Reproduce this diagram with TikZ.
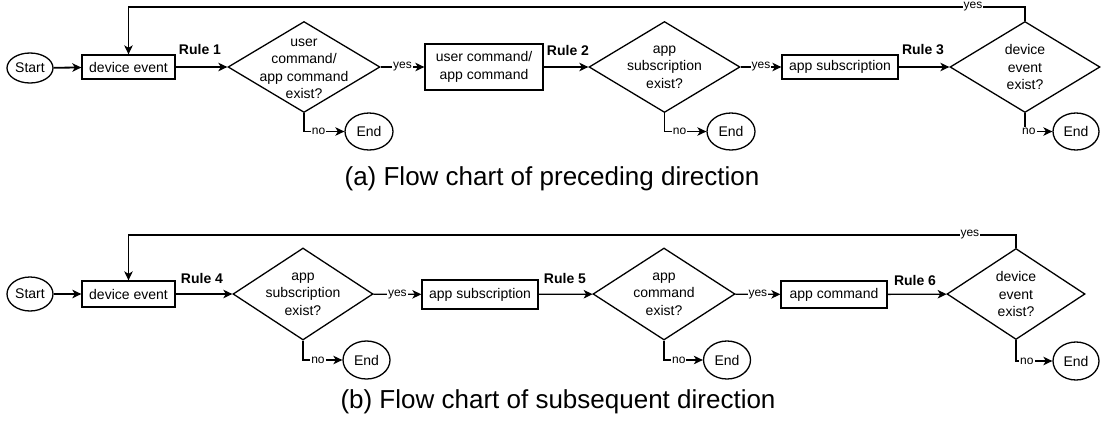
\documentclass[tikz,border=0pt]{standalone}
\usepackage{fontspec}
\setmainfont{Liberation Sans}
\usetikzlibrary{shapes.geometric,arrows.meta}
\begin{document}
\begin{tikzpicture}[x=1pt,y=-1pt,
  base/.style={draw=black, line width=1.3pt, inner sep=0pt, font=\fontsize{14}{17.5}\selectfont, align=center},
  oval/.style={base, ellipse},
  box/.style={base, rectangle},
  dia/.style={base, diamond},
  dtext/.style={draw=none, inner sep=0pt, font=\fontsize{14}{17.5}\selectfont, align=center},
  arr/.style={draw=black, line width=1.3pt, -{Stealth[length=9pt,width=8.5pt,inset=2.5pt]}},
  lbl/.style={fill=white, inner sep=1pt, font=\fontsize{12}{12}\selectfont},
  rulelbl/.style={font=\bfseries\fontsize{14}{16}\selectfont, inner sep=0pt},
  captext/.style={font=\fontsize{26}{30}\selectfont, inner sep=0pt}]
\useasboundingbox (0,0) rectangle (1101,426);

% ---------- panel (a) ----------
\node[oval, minimum width=46pt, minimum height=30pt] (sA) at (30,68) {Start};
\node[box, minimum width=93pt, minimum height=24pt] (devA) at (128.5,67) {device event};
\node[rulelbl] (r1) at (200,49) {Rule 1};
\node[dia, minimum width=152pt, minimum height=91pt,
  label={[dtext, yshift=-2pt]center:{user\\command/\\app command\\exist?}}] (dA1) at (304,67) {};
\node[oval, minimum width=48pt, minimum height=37pt] (eA1) at (369,131.5) {End};
\node[box, minimum width=118pt, minimum height=46pt] (cA) at (484,67) {user command/\\app command};
\node[rulelbl] (r2) at (568,50) {Rule 2};
\node[dia, minimum width=151pt, minimum height=91pt,
  label={[dtext]center:{app\\subscription\\exist?}}] (dA2) at (664.5,67) {};
\node[oval, minimum width=48pt, minimum height=37pt] (eA2) at (731,131.5) {End};
\node[box, minimum width=116pt, minimum height=24pt] (sbA) at (840,67) {app subscription};
\node[rulelbl] (r3) at (923,50) {Rule 3};
\node[dia, minimum width=150pt, minimum height=91pt,
  label={[dtext]center:{device\\event\\exist?}}] (dA3) at (1025,67) {};
\node[oval, minimum width=46pt, minimum height=37pt] (eA3) at (1076,131.5) {End};

\draw[arr, line width=1.8pt] (sA) -- (devA);
\draw[arr] (devA) -- (dA1);
\draw[arr] (dA1) -- node[lbl] (yA1) {yes} (cA);
\draw[arr] (dA1.south) |- node[lbl, pos=0.68] (nA1) {no} (eA1.west);
\draw[arr] (cA) -- (dA2);
\draw[arr] (dA2) -- node[lbl] (yA2) {yes} (sbA);
\draw[arr] (dA2.south) |- node[lbl, pos=0.68] (nA2) {no} (eA2.west);
\draw[arr] (sbA) -- (dA3);
\draw[arr] (dA3.south) |- node[lbl, pos=0.57] (nA3) {no} (eA3.west);
\draw[arr] (dA3.north) -- ++(0,-14) -| node[lbl, pos=0.029] (yA3) {yes} (devA.north);

\node[captext] (capA) at (552,179) {(a) Flow chart of preceding direction};

% ---------- panel (b) ----------
\node[oval, minimum width=46pt, minimum height=34pt] (sB) at (30,294) {Start};
\node[box, minimum width=93pt, minimum height=26pt] (devB) at (128.5,294) {device event};
\node[rulelbl] (r4) at (202,278) {Rule 4};
\node[dia, minimum width=140pt, minimum height=92pt,
  label={[dtext]center:{app\\subscription\\exist?}}] (dB1) at (303,294) {};
\node[oval, minimum width=47pt, minimum height=38pt] (eB1) at (366.5,360) {End};
\node[box, minimum width=116pt, minimum height=29pt] (sbB) at (480,294.5) {app subscription};
\node[rulelbl] (r5) at (565,278) {Rule 5};
\node[dia, minimum width=142pt, minimum height=92pt,
  label={[dtext]center:{app\\command\\exist?}}] (dB2) at (664,294) {};
\node[oval, minimum width=47pt, minimum height=38pt] (eB2) at (727,360) {End};
\node[box, minimum width=106pt, minimum height=27pt] (cmB) at (834,294.5) {app command};
\node[rulelbl] (r6) at (915,280) {Rule 6};
\node[dia, minimum width=138pt, minimum height=91pt,
  label={[dtext]center:{device\\event\\exist?}}] (dB3) at (1016,294) {};
\node[oval, minimum width=46pt, minimum height=38pt] (eB3) at (1076,361) {End};

\draw[arr, line width=1.8pt] (sB) -- (devB);
\draw[arr] (devB) -- (dB1);
\draw[arr] (dB1) -- node[lbl] (yB1) {yes} (sbB);
\draw[arr] (dB1.south) |- node[lbl, pos=0.69] (nB1) {no} (eB1.west);
\draw[arr] (sbB) -- (dB2);
\draw[arr] (dB2) -- node[lbl] (yB2) {yes} (cmB);
\draw[arr] (dB2.south) |- node[lbl, pos=0.69] (nB2) {no} (eB2.west);
\draw[arr] (cmB) -- (dB3);
\draw[arr] (dB3.south) |- node[lbl, pos=0.65] (nB3) {no} (eB3.west);
\draw[arr] (dB3.north) -- ++(0,-13) -| node[lbl, pos=0.026] (yB3) {yes} (devB.north);

\node[captext] (capB) at (558,402) {(b) Flow chart of subsequent direction};
\end{tikzpicture}
\end{document}
